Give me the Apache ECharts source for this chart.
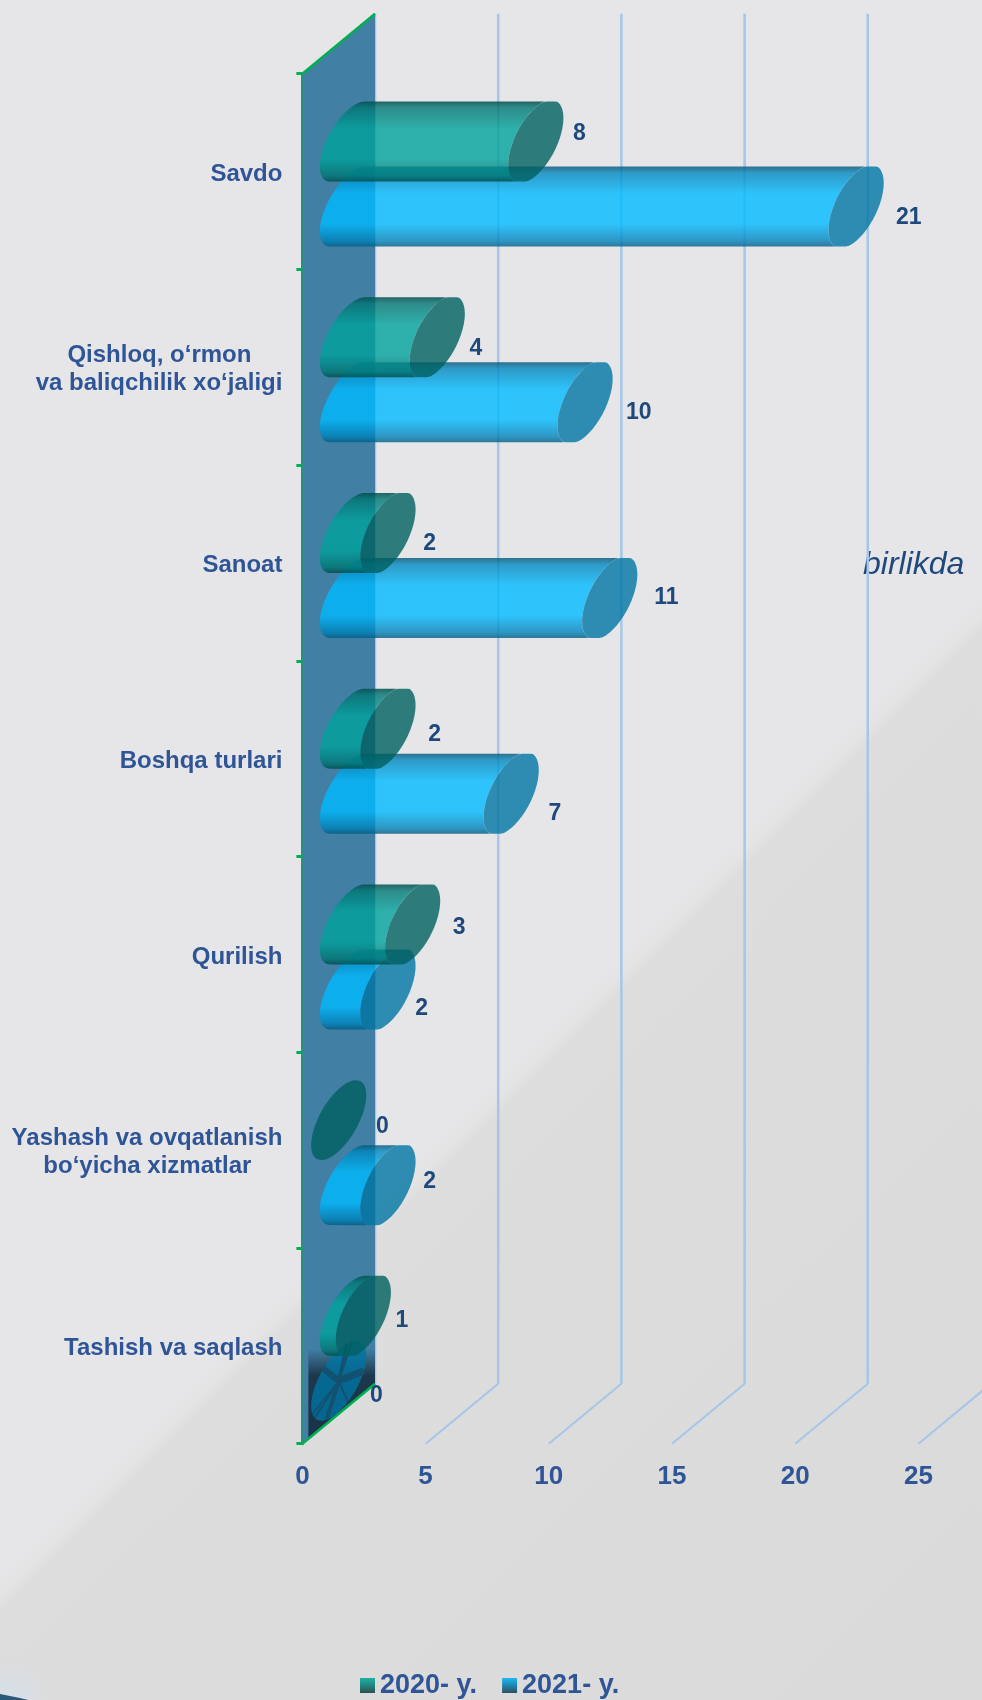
<!DOCTYPE html>
<html>
<head>
<meta charset="utf-8">
<title>birlikda</title>
<script src="https://cdn.jsdelivr.net/npm/echarts@6/dist/echarts.min.js"></script>
<style>
  html, body {
    margin: 0;
    padding: 0;
    background: linear-gradient(135deg, #e6e6e8 0%, #e6e6e8 58.9%, #e4e4e5 59.5%, #dddddd 60.2%, #dadada 100%);
  }
  #chart {
    width: 982px;
    height: 1700px;
  }
</style>
</head>
<body>
<div id="chart"></div>
<script>
const categories = [
  'Savdo',
  'Qishloq, o‘rmon\nva baliqchilik xo‘jaligi',
  'Sanoat',
  'Boshqa turlari',
  'Qurilish',
  'Yashash va ovqatlanish\nbo‘yicha xizmatlar',
  'Tashish va saqlash'
]
const values2020 = [8, 4, 2, 2, 3, 0, 1]
const values2021 = [21, 10, 11, 7, 2, 2, 0]
const xTicks = [0, 5, 10, 15, 20, 25]

// pixel nudges of the value labels, measured from the tip of each bar
const labelNudge2020 = [[16, -8], [11, 11], [14, 11], [19, 6], [19, 3], [16, 7], [11, 5]]
const labelNudge2021 = [[25, 11], [26, 10], [29, 0], [16, 20], [6, 19], [14, -3], [10, 15]]

const FONT = '"Liberation Sans", Arial, sans-serif'
const BLUE_TEXT = '#2f5597'
const DARK_TEXT = '#1f497d'
const GREEN = '#00b050'
const GRID_LINE = '#a5c6e8'

// depth of the fake 3D box
const DEPTH_X = 72.6
const DEPTH_Y = 60

// cross-section of a cylinder: a tilted ellipse
const EL_A = 27.6
const EL_H = 40
const ROUND = { b: 25, c: 31.2 }
// the end caps are a bit fatter and get flattened at top and bottom
const FAT = { b: 23.5, c: 34.4 }

function topAngle(el) {
  return Math.atan(el.b / el.c)
}

function ellipsePoint(cx, cy, t, el) {
  const s = Math.sin(t)
  const dy = -el.b * s - el.c * Math.cos(t)
  return [cx + EL_A * s, cy + Math.max(-EL_H, Math.min(EL_H, dy))]
}

function ellipseArc(cx, cy, from, to, el) {
  const pts = []
  const steps = 48
  for (let i = 0; i <= steps; i++) {
    pts.push(ellipsePoint(cx, cy, from + (to - from) * i / steps, el))
  }
  return pts
}

function vGradient(stops) {
  return new echarts.graphic.LinearGradient(0, 0, 0, 1, stops)
}

function cylinderSeries(name, values, nudges, barOffset, bodyStops, capColor, z, spokes) {
  return {
    name: name,
    type: 'custom',
    z: z,
    clip: false,
    encode: { x: 0, y: 1 },
    data: values.map((v, i) => [v, i]),
    renderItem: (params, api) => {
      const v = api.value(0)
      const i = api.value(1)
      const tip = api.coord([v, i])
      const base = api.coord([0, i])
      const cy = tip[1] + barOffset - DEPTH_Y / 2
      const cx = tip[0] + DEPTH_X / 2
      const baseCx = base[0] + DEPTH_X / 2 + 8.7
      const capEl = v > 0 ? FAT : ROUND
      const children = []
      if (v > 0) {
        const body = ellipseArc(baseCx, cy, topAngle(ROUND), topAngle(ROUND) - Math.PI, ROUND)
          .concat(ellipseArc(cx, cy, topAngle(FAT) - Math.PI, topAngle(FAT), FAT))
        children.push({
          type: 'polygon',
          shape: { points: body },
          style: { fill: vGradient(bodyStops) }
        })
      }
      children.push({
        type: 'polygon',
        shape: { points: ellipseArc(cx, cy, 0, Math.PI * 2, capEl) },
        style: { fill: capColor }
      })
      if (v === 0 && spokes) {
        // dark burst on the empty end cap
        ;[[5.7, 6], [2.0, 7], [0.3, 3], [3.6, 4], [4.2, 2], [4.4, 1.5], [2.8, 2], [0.5, 2]].forEach((s) => {
          const end = ellipsePoint(cx, cy, s[0], capEl)
          children.push({
            type: 'line',
            shape: { x1: cx, y1: cy, x2: end[0], y2: end[1] },
            style: { stroke: '#14506f', lineWidth: s[1] }
          })
        })
      }
      children.push({
        type: 'text',
        style: {
          text: String(v),
          x: cx + EL_A + nudges[i][0],
          y: cy + nudges[i][1],
          fill: DARK_TEXT,
          font: 'bold 23px ' + FONT,
          align: 'center',
          verticalAlign: 'middle'
        }
      })
      return { type: 'group', children: children }
    }
  }
}

const chart = echarts.init(document.getElementById('chart'))

const option = {
  animation: false,
  backgroundColor: 'transparent',
  textStyle: { fontFamily: FONT },
  grid: { left: 302.4, top: 73.7, width: 616, height: 1370 },
  graphic: [
    {
      type: 'text',
      left: 863,
      top: 549,
      style: {
        text: 'birlikda',
        fill: DARK_TEXT,
        font: 'italic 32px ' + FONT
      }
    },
    {
      // scrap of a picture left in the bottom corner
      type: 'rect',
      silent: true,
      shape: { x: 0, y: 1655, width: 50, height: 45 },
      style: {
        fill: new echarts.graphic.RadialGradient(0.2, 1, 0.9, [
          { offset: 0, color: 'rgba(210,228,242,0.6)' },
          { offset: 1, color: 'rgba(210,228,242,0)' }
        ])
      }
    },
    {
      type: 'polygon',
      silent: true,
      shape: { points: [[0, 1694], [10, 1696], [20, 1698], [28, 1700], [0, 1700]] },
      style: { fill: '#2a5878' }
    }
  ],
  legend: {
    left: 355,
    top: 1667,
    itemWidth: 15,
    itemHeight: 15,
    itemGap: 25,
    selectedMode: false,
    textStyle: {
      color: BLUE_TEXT,
      fontSize: 27,
      fontWeight: 'bold',
      fontFamily: FONT
    },
    data: [
      {
        name: '2020- y.',
        icon: 'rect',
        itemStyle: {
          color: new echarts.graphic.LinearGradient(0, 0, 0, 1, [
            { offset: 0, color: '#1fb0a4' },
            { offset: 0.45, color: '#1f8a84' },
            { offset: 1, color: '#2f4f50' }
          ])
        }
      },
      {
        name: '2021- y.',
        icon: 'rect',
        itemStyle: {
          color: new echarts.graphic.LinearGradient(0, 0, 0, 1, [
            { offset: 0, color: '#1fb8f4' },
            { offset: 0.45, color: '#1f8ab4' },
            { offset: 1, color: '#2f4f60' }
          ])
        }
      }
    ]
  },
  xAxis: {
    type: 'value',
    min: 0,
    max: 25,
    interval: 5,
    axisLine: { show: false },
    axisTick: { show: false },
    splitLine: { show: false },
    axisLabel: {
      margin: 20,
      color: BLUE_TEXT,
      fontSize: 26,
      fontWeight: 'bold',
      fontFamily: FONT
    }
  },
  yAxis: {
    type: 'category',
    inverse: true,
    data: categories,
    axisLine: { show: true, lineStyle: { color: GREEN, width: 3 } },
    axisTick: { show: true, length: 6, lineStyle: { color: GREEN, width: 3 } },
    axisLabel: {
      margin: 20,
      align: 'right',
      padding: [5, 0, 0, 0],
      formatter: (value) => {
        const lines = value.split('\n')
        if (lines.length === 1) return '{full|' + value + '}'
        // two line labels are centred on each other, so the shorter line is pushed left
        return lines[0].length < lines[1].length
          ? '{short|' + lines[0] + '}\n{full|' + lines[1] + '}'
          : '{full|' + lines[0] + '}\n{short|' + lines[1] + '}'
      },
      rich: {
        full: { color: BLUE_TEXT, fontSize: 24, fontWeight: 'bold', fontFamily: FONT, lineHeight: 28 },
        short: { color: BLUE_TEXT, fontSize: 24, fontWeight: 'bold', fontFamily: FONT, lineHeight: 28, padding: [0, 31, 0, 0] }
      }
    }
  },
  series: [
    {
      // back wall grid lines and their floor diagonals
      type: 'custom',
      z: 1,
      silent: true,
      clip: false,
      encode: { x: 0 },
      data: xTicks.map((v) => [v]),
      renderItem: (params, api) => {
        const x = api.coord([api.value(0), 0])[0]
        const top = params.coordSys.y
        const bottom = top + params.coordSys.height
        return {
          type: 'group',
          children: [
            {
              type: 'line',
              shape: { x1: x + DEPTH_X, y1: top - DEPTH_Y, x2: x + DEPTH_X, y2: bottom - DEPTH_Y },
              style: { stroke: GRID_LINE, lineWidth: 2.5 }
            },
            {
              type: 'line',
              shape: { x1: x, y1: bottom, x2: x + DEPTH_X, y2: bottom - DEPTH_Y },
              style: { stroke: GRID_LINE, lineWidth: 2 }
            }
          ]
        }
      }
    },
    {
      // side wall standing on the category axis
      type: 'custom',
      z: 2,
      silent: true,
      clip: false,
      encode: { x: 0 },
      data: [[0]],
      renderItem: (params, api) => {
        const x = api.coord([0, 0])[0]
        const top = params.coordSys.y
        const bottom = top + params.coordSys.height
        return {
          type: 'group',
          children: [
            {
              type: 'polygon',
              shape: {
                points: [[x, top], [x + DEPTH_X, top - DEPTH_Y], [x + DEPTH_X, bottom - DEPTH_Y], [x, bottom]]
              },
              style: { fill: '#417fa4' }
            },
            {
              // dark smudge at the foot of the wall
              type: 'polygon',
              shape: {
                points: [[x + 6, bottom - 95], [x + DEPTH_X, bottom - 95], [x + DEPTH_X, bottom - DEPTH_Y], [x + 6, bottom - 5]]
              },
              style: {
                fill: vGradient([
                  { offset: 0, color: 'rgba(26,52,70,0)' },
                  { offset: 0.3, color: 'rgba(26,52,70,0.95)' },
                  { offset: 1, color: 'rgba(26,52,70,1)' }
                ])
              }
            },
            {
              type: 'line',
              shape: { x1: x, y1: top, x2: x + DEPTH_X, y2: top - DEPTH_Y },
              style: { stroke: GREEN, lineWidth: 2.5 }
            },
            {
              type: 'line',
              shape: { x1: x, y1: bottom, x2: x + DEPTH_X, y2: bottom - DEPTH_Y },
              style: { stroke: GREEN, lineWidth: 2.5 }
            }
          ]
        }
      }
    },
    cylinderSeries('2020- y.', values2020, labelNudge2020, 0, [
      { offset: 0, color: 'rgba(0,78,78,0.85)' },
      { offset: 0.08, color: 'rgba(0,118,114,0.8)' },
      { offset: 0.34, color: 'rgba(0,162,156,0.8)' },
      { offset: 0.72, color: 'rgba(0,162,156,0.8)' },
      { offset: 0.93, color: 'rgba(0,118,114,0.8)' },
      { offset: 1, color: 'rgba(0,78,78,0.85)' }
    ], 'rgba(0,96,95,0.8)', 6, false),
    cylinderSeries('2021- y.', values2021, labelNudge2021, 65, [
      { offset: 0, color: 'rgba(0,84,120,0.8)' },
      { offset: 0.08, color: 'rgba(0,135,190,0.8)' },
      { offset: 0.34, color: 'rgba(0,186,255,0.8)' },
      { offset: 0.72, color: 'rgba(0,186,255,0.8)' },
      { offset: 0.93, color: 'rgba(0,130,185,0.8)' },
      { offset: 1, color: 'rgba(0,92,130,0.8)' }
    ], 'rgba(0,116,162,0.8)', 5, true)
  ]
}

chart.setOption(option)
</script>
</body>
</html>
